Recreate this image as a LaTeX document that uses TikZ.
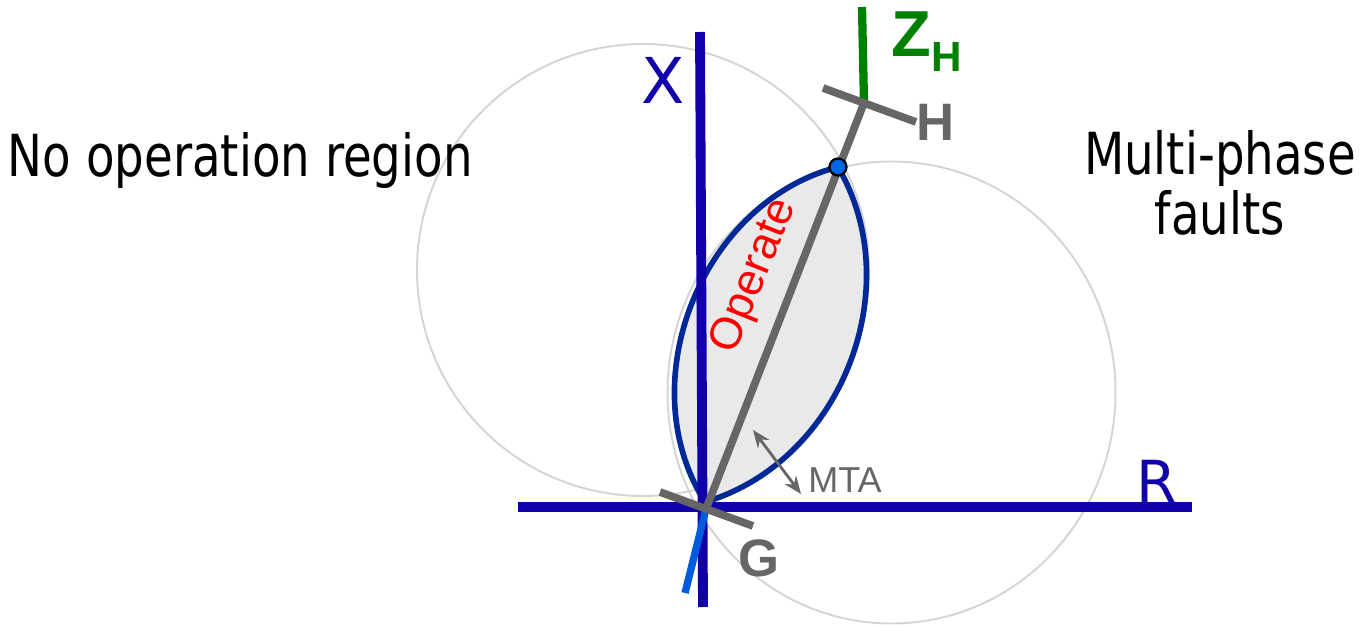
\documentclass[tikz,border=0pt]{standalone}
\usepackage{fontspec}
\setmainfont{Liberation Sans}
\newfontfamily\tahoma[FakeStretch=0.805]{DejaVu Sans}
\newfontfamily\tahomawide{DejaVu Sans}
\usetikzlibrary{arrows.meta}

\definecolor{axisblue}{RGB}{17,0,170}
\definecolor{lensblue}{RGB}{0,40,150}
\definecolor{lensfill}{RGB}{233,233,233}
\definecolor{raygray}{RGB}{102,102,102}
\definecolor{circgray}{RGB}{212,212,212}
\definecolor{zhgreen}{RGB}{0,128,0}
\definecolor{zgblue}{RGB}{0,90,220}
\definecolor{dotblue}{RGB}{0,102,230}

\begin{document}
\begin{tikzpicture}[
    x=0.02cm, y=0.02cm,
    axis/.style={line width=5.6pt, draw=axisblue},
    mho/.style={line width=1.1pt, draw=circgray},
    lens/.style={line width=3.2pt, draw=lensblue, fill=lensfill, line join=round},
    ray/.style={line width=4.4pt, draw=raygray},
    tickmark/.style={line width=4.4pt, draw=raygray},
    dot/.style={circle, fill=dotblue, draw=black, line width=1.3pt, minimum size=0.34cm, inner sep=0pt},
    doublearrow/.style={{Stealth[length=10pt,width=8pt]}-{Stealth[length=10pt,width=8pt]}, line width=1.6pt, draw=raygray},
    lbl/.style={inner sep=0pt}
]
    \useasboundingbox (0,0) rectangle (1363,626);

    % ================= KEY POINTS =================
    \coordinate (G) at (706,117);
    \coordinate (H) at (864,523);
    \coordinate (Tip) at (705,124);
    \coordinate (Reach) at (838,459);

    % ================= MHO CIRCLES AND OPERATE LENS =================
    \draw[mho] (643,356) circle[radius=226];
    \draw[mho] (891.5,233.5) ellipse[x radius=224, y radius=231];

    \draw[lens] (Tip) to[bend right=52] (Reach) to[bend right=54] (Tip) -- cycle;

    % ================= R-X AXES =================
    \coordinate (XBot) at (703,19);
    \coordinate (XTop) at (700,594);
    \coordinate (RLeft) at (518,119);
    \coordinate (RRight) at (1192,119);
    \draw[axis] (XBot) -- (XTop);
    \draw[axis] (RLeft) -- (RRight);

    % ================= IMPEDANCES =================
    \coordinate (ZGEnd) at (685,33);
    \draw[line width=4.2pt, draw=zgblue] (G) -- (ZGEnd);

    \draw[ray] (G) -- (H);

    \coordinate (ZHTop) at (862,619);
    \draw[line width=4.7pt, draw=zhgreen] (H) -- (ZHTop);

    % end markers at G and H
    \draw[tickmark] (G) ++(-46,17) -- ++(93,-34);
    \draw[tickmark] (H) ++(-41,15) -- ++(93,-34);

    \node[dot] (ReachDot) at (Reach) {};

    % MTA
    \coordinate (MtaA) at (753,196);
    \coordinate (MtaB) at (801,132);
    \draw[doublearrow] (MtaA) -- (MtaB);

    % ================= LABELS =================
    \node[lbl, anchor=base west, font=\tahoma\fontsize{33}{34}\selectfont] (NoOp) at (7.5,449) {No operation region};
    \node[lbl, align=center, font=\tahoma\fontsize{33}{34.1}\selectfont] (MultiPhase) at (1220,443) {Multi-phase\\faults};

    \node[lbl, text=axisblue, font=\tahomawide\fontsize{36}{36}\selectfont] (XLabel) at (663.5,545.5) {X};
    \node[lbl, text=axisblue, font=\tahomawide\fontsize{33}{33}\selectfont] (RLabel) at (1157,144.5) {R};

    \node[lbl, text=red, rotate=68, font=\fontsize{25.5}{26}\selectfont] (OpLabel) at (755,350) {Operate};
    \node[lbl, anchor=base west, text=raygray, font=\fontsize{20.5}{21}\selectfont] (MtaLabel) at (808,133) {MTA};

    \node[lbl, text=raygray, font=\bfseries\fontsize{30}{30}\selectfont] (GLabel) at (758.5,67.5) {G};
    \node[lbl, text=raygray, font=\bfseries\fontsize{30}{30}\selectfont] (HLabel) at (935.5,503.5) {H};
    \node[lbl, anchor=base west, text=zhgreen, font=\bfseries\fontsize{37}{37}\selectfont] (ZHLabel) at (891.5,569)
        {Z\raisebox{-8.5pt}{\fontsize{24}{24}\selectfont H}};

\end{tikzpicture}
\end{document}
